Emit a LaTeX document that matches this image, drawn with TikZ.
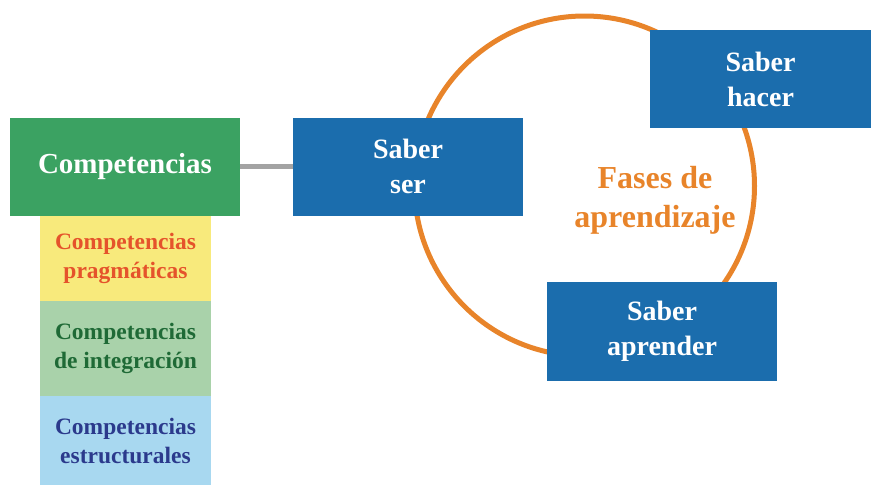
\documentclass[tikz,border=0pt]{standalone}
\usepackage{fontspec}
\setmainfont{Liberation Serif}
\definecolor{cgreen}{HTML}{3BA262}
\definecolor{cblue}{HTML}{1B6DAD}
\definecolor{corange}{HTML}{E8842A}
\definecolor{cyellow}{HTML}{F8EA7C}
\definecolor{clgreen}{HTML}{A9D2AA}
\definecolor{clblue}{HTML}{A8D8F0}
\definecolor{tred}{HTML}{E5532B}
\definecolor{tgreen}{HTML}{1F6A36}
\definecolor{tnavy}{HTML}{2B3A8C}
\definecolor{cgray}{HTML}{A3A3A3}
\begin{document}
\begin{tikzpicture}[x=1pt,y=-1pt,
  box/.style={rectangle, inner sep=0pt, align=center, font=\bfseries\fontsize{28}{35}\selectfont},
  bluebox/.style={box, fill=cblue, text=white, minimum width=230pt, minimum height=98pt},
  subbox/.style={box, minimum width=171pt, font=\bfseries\fontsize{23.5}{29}\selectfont},
  link/.style={draw=cgray, line width=5pt}]
\useasboundingbox (0,0) rectangle (871,485);
\draw[corange, line width=5pt] (584.5,186) circle (170);
\node[box, fill=cgreen, text=white, minimum width=230pt, minimum height=98pt, font=\bfseries\fontsize{29}{35}\selectfont] (comp) at (125,166.5) {Competencias};
\node[subbox, fill=cyellow, text=tred, minimum height=85pt] (prag) at (125.5,258.5) {Competencias\\pragmáticas};
\node[subbox, fill=clgreen, text=tgreen, minimum height=95pt] (integ) at (125.5,348.5) {Competencias\\de integración};
\node[subbox, fill=clblue, text=tnavy, minimum height=89pt] (estr) at (125.5,440.5) {Competencias\\estructurales};
\node[bluebox] (ser) at (408,166.5) {Saber\\ser};
\node[bluebox, minimum width=221pt] (hacer) at (760.5,79) {Saber\\hacer};
\node[bluebox, minimum height=99pt] (apr) at (662,331.5) {Saber\\aprender};
\node[box, text=corange, font=\bfseries\fontsize{32}{39}\selectfont] (fases) at (655,200) {Fases de\\aprendizaje};
\draw[link] (comp.east) -- (ser.west);
\end{tikzpicture}
\end{document}
